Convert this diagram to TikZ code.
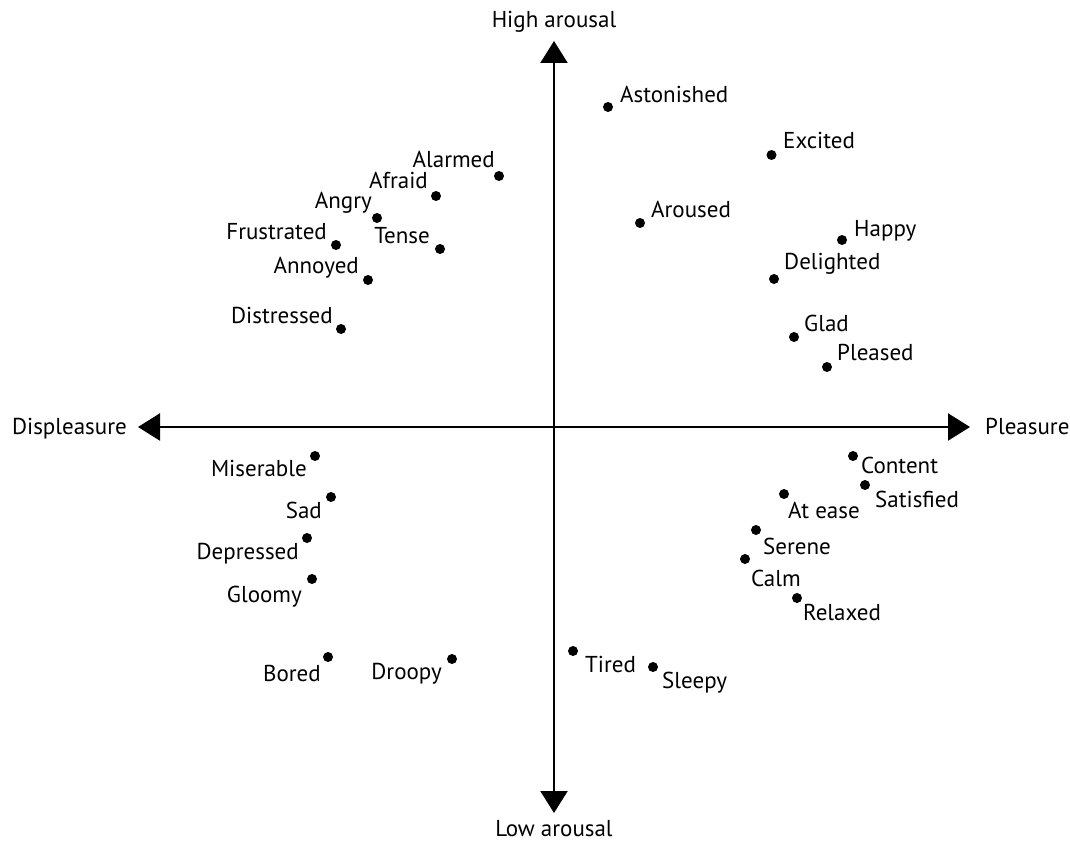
\documentclass[tikz,border=0pt]{standalone}
\usepackage{fontspec}
\setmainfont{PT Sans}
\usetikzlibrary{arrows.meta}
\tikzset{
	axis/.style={line width=2.2pt,{Triangle[length=22pt,width=27pt]}-{Triangle[length=22pt,width=27pt]}},
	dot/.style={circle,fill=black,inner sep=0pt,minimum size=10pt},
	word/.style={inner sep=0pt,font=\fontsize{23}{27}\selectfont},
}
\begin{document}
\begin{tikzpicture}[x=1pt,y=-1pt]
	\useasboundingbox (0,0) rectangle (1070,843);
	% axes
	\coordinate (W) at (138,427);
	\coordinate (E) at (970,427);
	\coordinate (N) at (554,41);
	\coordinate (S) at (554,813);
	\draw[axis] (W) -- (E);
	\draw[axis] (S) -- (N);
	\node[word,anchor=base east] (displeasure) at (127,434) {Displeasure};
	\node[word,anchor=base west] (pleasure) at (985,434) {Pleasure};
	\node[word,anchor=base] (higharousal) at (554,28) {High arousal};
	\node[word,anchor=base] (lowarousal) at (554,836) {Low arousal};
	% high arousal, pleasure
	\node[dot] (astonished) at (608,107) {};
	\node[word,anchor=base west] (astonishedL) at (620,102) {Astonished};
	\node[dot] (excited) at (771.5,155) {};
	\node[word,anchor=base west] (excitedL) at (783,148) {Excited};
	\node[dot] (aroused) at (640,223) {};
	\node[word,anchor=base west] (arousedL) at (651,217) {Aroused};
	\node[dot] (happy) at (842,240) {};
	\node[word,anchor=base west] (happyL) at (854,236) {Happy};
	\node[dot] (delighted) at (774,279) {};
	\node[word,anchor=base west] (delightedL) at (784,269) {Delighted};
	\node[dot] (glad) at (794,337) {};
	\node[word,anchor=base west] (gladL) at (804,331) {Glad};
	\node[dot] (pleased) at (827,367) {};
	\node[word,anchor=base west] (pleasedL) at (837,360) {Pleased};
	% high arousal, displeasure
	\node[dot] (alarmed) at (499,176) {};
	\node[word,anchor=base east] (alarmedL) at (495,167) {Alarmed};
	\node[dot] (afraid) at (436,196) {};
	\node[word,anchor=base east] (afraidL) at (428,188) {Afraid};
	\node[dot] (angry) at (377,218) {};
	\node[word,anchor=base east] (angryL) at (372,208) {Angry};
	\node[dot] (frustrated) at (336,245) {};
	\node[word,anchor=base east] (frustratedL) at (327,239) {Frustrated};
	\node[dot] (tense) at (440,249) {};
	\node[word,anchor=base east] (tenseL) at (430,243) {Tense};
	\node[dot] (annoyed) at (368,280) {};
	\node[word,anchor=base east] (annoyedL) at (359,273) {Annoyed};
	\node[dot] (distressed) at (341,329) {};
	\node[word,anchor=base east] (distressedL) at (333,323) {Distressed};
	% low arousal, pleasure
	\node[dot] (content) at (853,456) {};
	\node[word,anchor=base west] (contentL) at (861,473) {Content};
	\node[dot] (satisfied) at (865,485) {};
	\node[word,anchor=base west] (satisfiedL) at (875,507) {Satisfied};
	\node[dot] (atease) at (784,494) {};
	\node[word,anchor=base west] (ateaseL) at (788,518) {At ease};
	\node[dot] (serene) at (756,530) {};
	\node[word,anchor=base west] (sereneL) at (763,554) {Serene};
	\node[dot] (calm) at (745,559) {};
	\node[word,anchor=base west] (calmL) at (751,586) {Calm};
	\node[dot] (relaxed) at (797,598) {};
	\node[word,anchor=base west] (relaxedL) at (803,620) {Relaxed};
	\node[dot] (tired) at (573,651) {};
	\node[word,anchor=base west] (tiredL) at (585,672) {Tired};
	\node[dot] (sleepy) at (653,667) {};
	\node[word,anchor=base west] (sleepyL) at (662,688) {Sleepy};
	% low arousal, displeasure
	\node[dot] (miserable) at (315,456) {};
	\node[word,anchor=base east] (miserableL) at (307,476) {Miserable};
	\node[dot] (sad) at (331,497) {};
	\node[word,anchor=base east] (sadL) at (322,518) {Sad};
	\node[dot] (depressed) at (307,538) {};
	\node[word,anchor=base east] (depressedL) at (299,559) {Depressed};
	\node[dot] (gloomy) at (312,579) {};
	\node[word,anchor=base east] (gloomyL) at (302,602) {Gloomy};
	\node[dot] (bored) at (328,657) {};
	\node[word,anchor=base east] (boredL) at (321,681) {Bored};
	\node[dot] (droopy) at (452,659) {};
	\node[word,anchor=base east] (droopyL) at (442,679) {Droopy};
\end{tikzpicture}
\end{document}
